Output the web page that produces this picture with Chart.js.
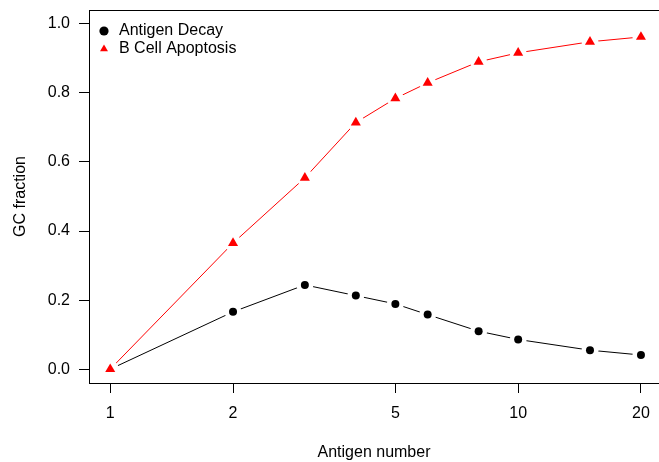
<!DOCTYPE html>
<html>
<head>
<meta charset="utf-8">
<script src="https://cdn.jsdelivr.net/npm/chart.js@4.4.1/dist/chart.umd.min.js"></script>
<style>
  html, body { margin: 0; padding: 0; background: #fff; overflow: hidden; }
</style>
</head>
<body>
<canvas id="gcChart" width="659" height="462"></canvas>
<script>
// --- values ---
const antigenNumbers = [1, 2, 3, 4, 5, 6, 8, 10, 15, 20];
const antigenDecay   = [0.0, 0.166, 0.244, 0.213, 0.189, 0.158, 0.110, 0.086, 0.055, 0.041];
const bCellApoptosis = [0.0, 0.365, 0.554, 0.714, 0.784, 0.829, 0.890, 0.916, 0.948, 0.962];
const xTickValues = [1, 2, 5, 10, 20];
const yTickValues = [0, 0.2, 0.4, 0.6, 0.8, 1.0];
const seriesNames = ['Antigen Decay', 'B Cell Apoptosis'];

Chart.defaults.font.family = "'Liberation Sans', Arial, sans-serif";
Chart.defaults.font.size = 16;
Chart.defaults.color = '#000';

const toPoints = (ys) => antigenNumbers.map((x, i) => ({ x: x, y: ys[i] }));
const decayPts = toPoints(antigenDecay);
const apoptosisPts = toPoints(bCellApoptosis);

// R-style log axis: 4% pad on the left; the plot region runs a little past
// the right edge of the figure, so only ~3.4% of it is visible there
const logLo = Math.log10(antigenNumbers[0]);
const logHi = Math.log10(antigenNumbers[antigenNumbers.length - 1]);
const xMin = Math.pow(10, logLo - 0.04 * (logHi - logLo));
const xMax = Math.pow(10, logHi + 0.034 * (logHi - logLo));

// type="b": the line is broken around each point, done with a white halo
const GAP = 8.5;

// box round the plot region, like R's box()
const plotBox = {
  id: 'plotBox',
  afterDraw(chart) {
    const { ctx, chartArea: a } = chart;
    ctx.save();
    ctx.strokeStyle = '#000';
    ctx.lineWidth = 1;
    ctx.strokeRect(Math.round(a.left) + 0.5, Math.round(a.top) + 0.5,
                   Math.round(a.width) + 2, Math.round(a.height));
    ctx.restore();
  }
};

// legend sits inside the top-left corner of the plot
const legendSpot = {
  id: 'legendSpot',
  afterLayout(chart) {
    const lg = chart.legend, a = chart.chartArea;
    lg.left = a.left + 6;
    lg.top = a.top + 11;
    lg.right = a.right;
    lg.bottom = a.bottom;
  }
};

const ctx = document.getElementById('gcChart').getContext('2d');
new Chart(ctx, {
  type: 'scatter',
  data: {
    datasets: [
      // Antigen Decay
      { label: 'decay-line', data: decayPts, showLine: true, borderColor: '#000', borderWidth: 1, pointRadius: 0, order: 6 },
      { label: 'decay-gap', data: decayPts, pointRadius: GAP, pointBackgroundColor: '#fff', backgroundColor: '#fff', pointBorderWidth: 0, order: 5 },
      { label: seriesNames[0], data: decayPts, pointStyle: 'circle', pointRadius: 4, pointBackgroundColor: '#000', backgroundColor: '#000', pointBorderWidth: 0, borderWidth: 0, order: 4 },
      // B Cell Apoptosis
      { label: 'apop-line', data: apoptosisPts, showLine: true, borderColor: '#ff0000', borderWidth: 1, pointRadius: 0, order: 3 },
      { label: 'apop-gap', data: apoptosisPts, pointRadius: GAP, pointBackgroundColor: '#fff', backgroundColor: '#fff', pointBorderWidth: 0, order: 2 },
      { label: seriesNames[1], data: apoptosisPts, pointStyle: 'triangle', pointRadius: 5.8, pointBackgroundColor: '#ff0000', backgroundColor: '#ff0000', pointBorderWidth: 0, borderWidth: 0, order: 1 }
    ]
  },
  options: {
    responsive: false,
    animation: false,
    devicePixelRatio: 1,
    events: [],
    layout: { autoPadding: false, padding: { top: 10, right: 0, left: 0, bottom: 0 } },
    plugins: {
      tooltip: { enabled: false },
      legend: {
        position: 'chartArea',
        align: 'start',
        labels: {
          usePointStyle: true,
          boxWidth: 14,
          boxHeight: 6.5,
          padding: 2,
          color: '#000',
          font: { size: 16 },
          filter: (item) => seriesNames.includes(item.text),
          sort: (a, b) => a.datasetIndex - b.datasetIndex
        }
      }
    },
    scales: {
      x: {
        type: 'logarithmic',
        min: xMin,
        max: xMax,
        afterBuildTicks: (scale) => { scale.ticks = xTickValues.map(v => ({ value: v })); },
        afterFit: (scale) => { scale.height = 79; scale.paddingLeft = 0; scale.paddingRight = 0; },
        ticks: { callback: (v) => String(v), autoSkip: false, maxRotation: 0, padding: 11, color: '#000', font: { size: 16 } },
        grid: { drawOnChartArea: false, drawTicks: true, tickLength: 10, color: '#000', lineWidth: 1 },
        border: { display: false },
        title: { display: true, text: 'Antigen number', color: '#000', font: { size: 16, lineHeight: 1.2 }, padding: { top: 0, bottom: 0 } }
      },
      y: {
        min: -0.04,
        max: 1.04,
        afterBuildTicks: (scale) => { scale.ticks = yTickValues.map(v => ({ value: v })); },
        afterFit: (scale) => { scale.width = 89; scale.paddingTop = 0; scale.paddingBottom = 0; },
        ticks: { callback: (v) => v.toFixed(1), padding: 9, color: '#000', font: { size: 16 } },
        grid: { drawOnChartArea: false, drawTicks: true, tickLength: 10, color: '#000', lineWidth: 1 },
        border: { display: false },
        title: { display: true, text: 'GC fraction', color: '#000', font: { size: 16, lineHeight: 1.2 }, padding: { top: 11, bottom: 0 } }
      }
    }
  },
  plugins: [plotBox, legendSpot]
});
</script>
</body>
</html>
